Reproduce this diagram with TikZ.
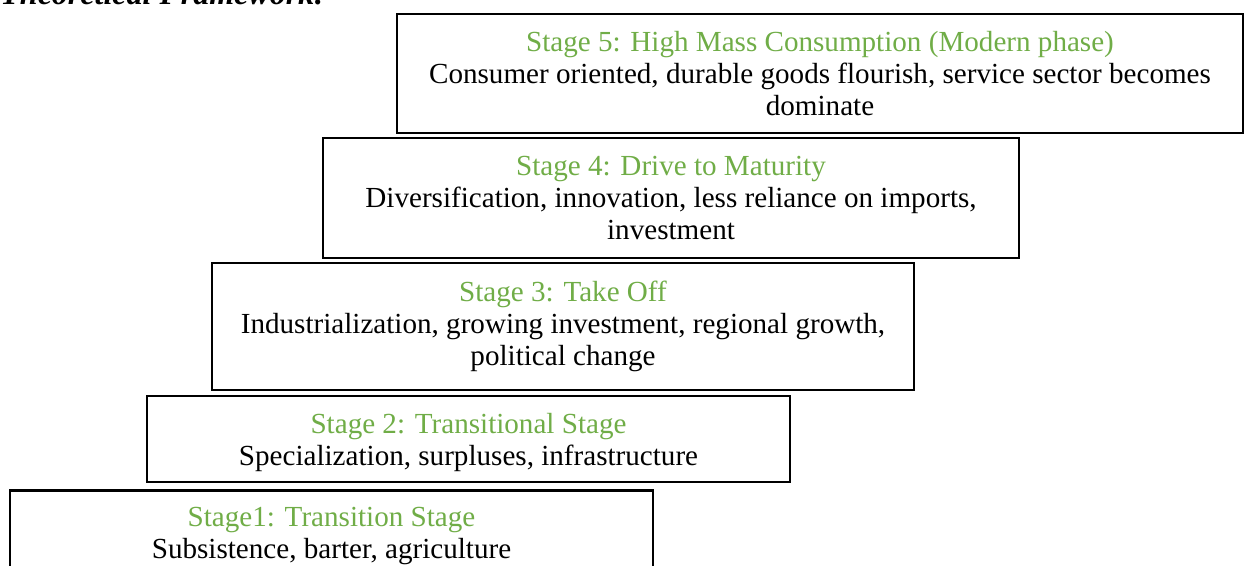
\documentclass[tikz,border=0pt]{standalone}
\usepackage{fontspec}
\setmainfont{Liberation Serif}
\usepackage{xcolor}
\definecolor{stagegreen}{HTML}{70AD47}
\usetikzlibrary{positioning}

\begin{document}
\begin{tikzpicture}[x=0.45pt,y=-0.45pt,
                stage/.style={draw,rectangle,line width=1.1pt,align=center,inner sep=0pt,
                        font=\fontsize{13.1}{14.4}\selectfont},
                head/.style={text=stagegreen}]
        \useasboundingbox (0,0) rectangle (1250,565);
        \clip (0,0) rectangle (1250,565);
        %----------------  title (cut off at the top)  ----------------
        \node[anchor=base west,inner sep=0pt,
              font=\fontsize{14.4}{16}\selectfont\bfseries\itshape] (title) at (0,4) {Theoretical Framework:};

        %----------------  stages  ----------------
        \node[stage,minimum width=289.4pt,minimum height=41pt] (s1) at (331.5,536)
        {\textcolor{stagegreen}{Stage1: Transition Stage}\\
         Subsistence, barter, agriculture};
        \node[stage,minimum width=289.4pt,minimum height=38.7pt] (s2) at (468.5,439)
        {\rule{0pt}{12pt}\textcolor{stagegreen}{Stage 2: Transitional Stage}\\
         Specialization, surpluses, infrastructure};
        \node[stage,minimum width=315.9pt,minimum height=57.2pt] (s3) at (563,326.5)
        {\textcolor{stagegreen}{Stage 3: Take Off}\\
         Industrialization, growing investment, regional growth,\\
         political change};
        \node[stage,minimum width=313.2pt,minimum height=54pt] (s4) at (671,198)
        {\textcolor{stagegreen}{Stage 4: Drive to Maturity}\\
         Diversification, innovation, less reliance on imports,\\
         investment};
        \node[stage,minimum width=380.7pt,minimum height=53.6pt] (s5) at (820,73.5)
        {\textcolor{stagegreen}{Stage 5: High Mass Consumption (Modern phase)}\\
         Consumer oriented, durable goods flourish, service sector becomes\\
         dominate};
\end{tikzpicture}
\end{document}
